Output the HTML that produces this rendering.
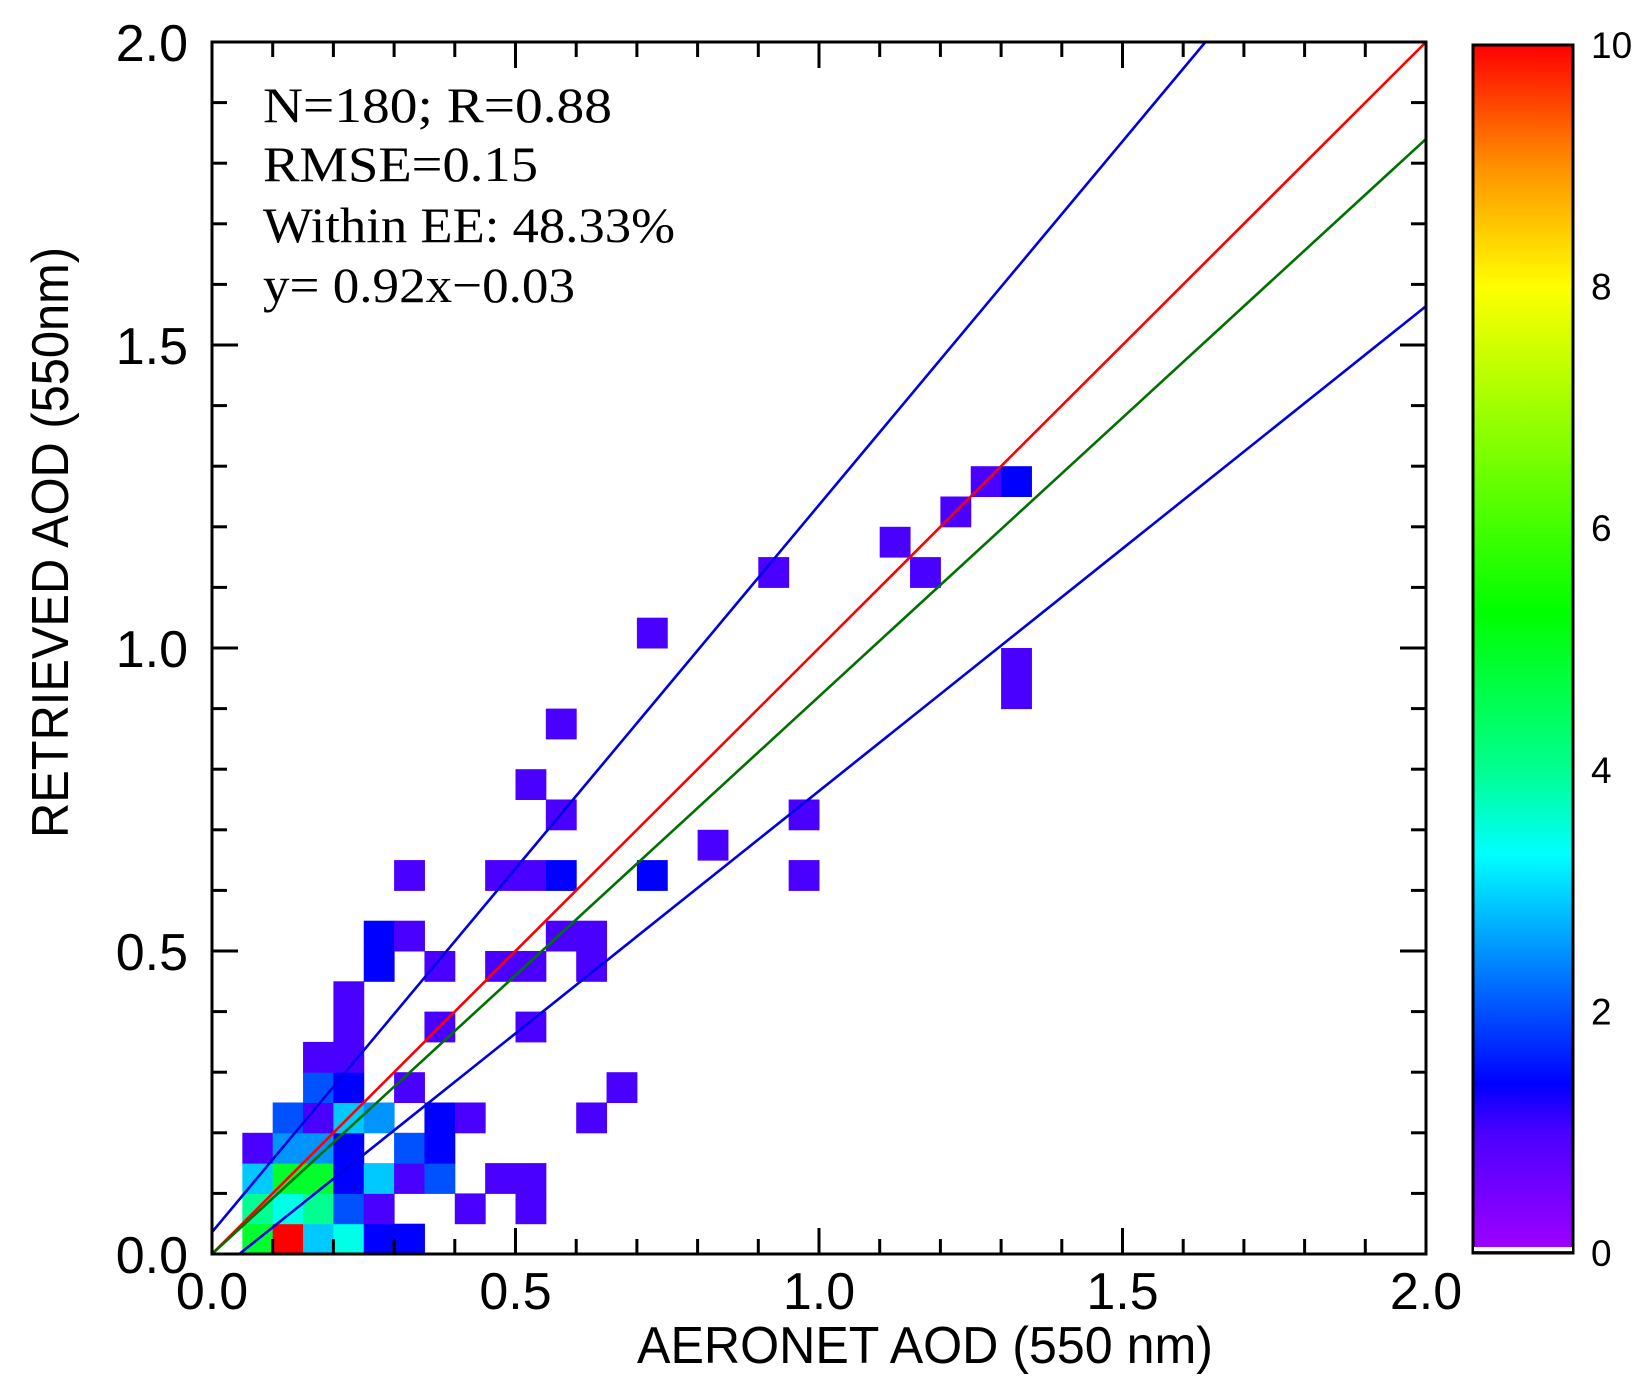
<!DOCTYPE html>
<html><head><meta charset="utf-8"><style>
html,body{margin:0;padding:0;background:#fff;}
svg{display:block;}
.tk{font-family:"Liberation Sans",sans-serif;font-size:52px;fill:#000;}
.ann{font-family:"Liberation Serif",serif;font-size:50px;fill:#000;}
</style></head><body>
<svg id="chart" width="1650" height="1389" viewBox="0 0 1650 1389" xmlns="http://www.w3.org/2000/svg">
<defs>
<linearGradient id="cbg" x1="0" y1="1" x2="0" y2="0">
<stop offset="0" stop-color="#a000ff"/><stop offset="0.1" stop-color="#4a00ff"/><stop offset="0.14" stop-color="#0000ff"/>
<stop offset="0.33" stop-color="#00ffff"/><stop offset="0.4" stop-color="#00ff90"/><stop offset="0.53" stop-color="#00ff00"/>
<stop offset="0.8" stop-color="#ffff00"/><stop offset="0.9" stop-color="#ff9000"/><stop offset="1" stop-color="#ff0000"/>
</linearGradient>
<clipPath id="pc"><rect x="212" y="42" width="1214" height="1212"/></clipPath>
</defs>
<g id="cells" clip-path="url(#pc)"></g>
<g id="lines" clip-path="url(#pc)"></g>
<g id="axes"></g>
<g>
<text class="ann" x="263" y="122" textLength="349" lengthAdjust="spacingAndGlyphs">N=180; R=0.88</text>
<text class="ann" x="263" y="181" textLength="275" lengthAdjust="spacingAndGlyphs">RMSE=0.15</text>
<text class="ann" x="263" y="242" textLength="412" lengthAdjust="spacingAndGlyphs">Within EE: 48.33%</text>
<text class="ann" x="263" y="302" textLength="312" lengthAdjust="spacingAndGlyphs">y= 0.92x−0.03</text>
</g>
<text class="tk" x="637" y="1363" textLength="576" lengthAdjust="spacingAndGlyphs">AERONET AOD (550 nm)</text>
<text class="tk" transform="translate(68,838) rotate(-90)" x="0" y="0" textLength="591" lengthAdjust="spacingAndGlyphs">RETRIEVED AOD (550nm)</text>
<g id="cbar">
<rect x="1473" y="45" width="100" height="1208" fill="url(#cbg)" stroke="#000" stroke-width="3"/>
</g>
</svg>
<script>
// cells: [col index (0.05 bins in x), row index (0.05 bins in y), value]
const cellCols = [1,2,3,4,5,6, 1,2,3,4,5,8,10, 1,2,3,4,5,6,7,9,10, 1,2,3,4,6,7, 2,3,4,5,7,8,12, 3,4,6,13, 3,4, 4,7,10, 4, 5,7,9,10,12, 5,6,11,12, 6,9,10,11,14,19, 16, 11,19, 10, 11, 26,26, 14, 18,23, 22, 24, 25,26];
const cellRows = [0,0,0,0,0,0, 1,1,1,1,1,1,1, 2,2,2,2,2,2,2,2,2, 3,3,3,3,3,3, 4,4,4,4,4,4,4, 5,5,5,5, 6,6, 7,7,7, 8, 9,9,9,9,9, 10,10,10,10, 12,12,12,12,12,12, 13, 14,14, 15, 17, 18,19, 20, 22,22, 23, 24, 25,25];
const cellVals = [4.9,10,2.9,3.45,1.4,1.4, 4.0,3.45,4.0,2.0,1,1,1, 2.9,4.9,4.9,1.4,2.9,1,2.0,1,1, 1,2.5,2.5,1.4,2.0,1.4, 2.0,1,2.9,2.5,1.4,1,1, 2.0,1.4,1,1, 1,1, 1,1,1, 1, 1.4,1,1,1,1, 1.4,1,1,1, 1,1,1,1.4,1.4,1, 1, 1,1, 1, 1, 1,1, 1, 1,1, 1, 1, 1,1.4];
const binSize = [0.05];
const cbTicks = [0,2,4,6,8,10];
const axTicks = [0,0.5,1.0,1.5,2.0];
const axTickLabels = ["0.0","0.5","1.0","1.5","2.0"];
// reference lines: [slope, intercept]
const lineSlopes = [1, 0.92, 1.2, 0.8];
const lineIntercepts = [0, 0, 0.036, -0.036];
const lineColors = ["#ff0000","#007000","#0000e0","#0000e0"];
const lineNames = ["one-to-one-line","regression-line","ee-upper-line","ee-lower-line"];

const NS="http://www.w3.org/2000/svg";
const X0=212,X1=1426,Y0=1254,Y1=42;
const sx=v=>X0+(X1-X0)*v/2, sy=v=>Y0-(Y0-Y1)*v/2;
const CB0=1253,CB1=45, scb=v=>CB0-(CB0-CB1)*v/10;
const stops=[[0,[160,0,255]],[1,[74,0,255]],[1.4,[0,0,255]],[3.3,[0,255,255]],[4,[0,255,144]],[5.3,[0,255,0]],[8,[255,255,0]],[9,[255,144,0]],[10,[255,0,0]]];
function cmap(v){for(let i=1;i<stops.length;i++){if(v<=stops[i][0]){const a=stops[i-1],b=stops[i],t=(v-a[0])/(b[0]-a[0]);return 'rgb('+a[1].map((c,k)=>Math.round(c+(b[1][k]-c)*t)).join(',')+')';}}return 'rgb(255,0,0)';}
function mk(tag,attrs,parent){const e=document.createElementNS(NS,tag);for(const k in attrs)e.setAttribute(k,attrs[k]);parent.appendChild(e);return e;}

const cg=document.getElementById('cells');
for(let i=0;i<cellCols.length;i++){
  const b=binSize[0];
  const x=sx(cellCols[i]*b), x2=sx((cellCols[i]+1)*b), y=sy((cellRows[i]+1)*b), y2=sy(cellRows[i]*b);
  const r=mk('rect',{x:x,y:y,width:x2-x+0.5,height:y2-y+0.5,fill:cmap(cellVals[i])},cg);
  
  
}
const lg=document.getElementById('lines');
for(let i=0;i<lineSlopes.length;i++){
  const l=mk('line',{x1:sx(0),y1:sy(lineIntercepts[i]),x2:sx(2.2),y2:sy(lineSlopes[i]*2.2+lineIntercepts[i]),stroke:lineColors[i],'stroke-width':2.6},lg);
  
  
}
const ag=document.getElementById('axes');
const fr=mk('rect',{x:X0,y:Y1,width:X1-X0,height:Y0-Y1,fill:'none',stroke:'#000','stroke-width':3},ag);


for(let k=0;k<=20;k++){
  const v=k/10, L=(k%5===0)?26:15;
  const px=sx(v), py=sy(v);
  mk('line',{x1:px,y1:Y0,x2:px,y2:Y0-L,stroke:'#000','stroke-width':3},ag);
  mk('line',{x1:px,y1:Y1,x2:px,y2:Y1+L,stroke:'#000','stroke-width':3},ag);
  mk('line',{x1:X0,y1:py,x2:X0+L,y2:py,stroke:'#000','stroke-width':3},ag);
  mk('line',{x1:X1,y1:py,x2:X1-L,y2:py,stroke:'#000','stroke-width':3},ag);
}
for(let i=0;i<axTicks.length;i++){
  const tx=mk('text',{x:sx(axTicks[i]),y:1309,'text-anchor':'middle',class:'tk'},ag);
  tx.textContent=axTickLabels[i];
  
  
  const ty=mk('text',{x:188,y:sy(axTicks[i])+19,'text-anchor':'end',class:'tk'},ag);
  ty.textContent=axTickLabels[i];
  
  
}
const cb=document.getElementById('cbar');
mk('rect',{x:1474,y:1247,width:98,height:4,fill:'#fff'},cb);
for(let i=0;i<cbTicks.length;i++){
  const t=mk('text',{x:1591,y:scb(cbTicks[i])+13,class:'tk'},cb);
  t.setAttribute('style','font-size:37px');
  t.textContent=String(cbTicks[i]);
  
  
}
</script>
</body></html>
